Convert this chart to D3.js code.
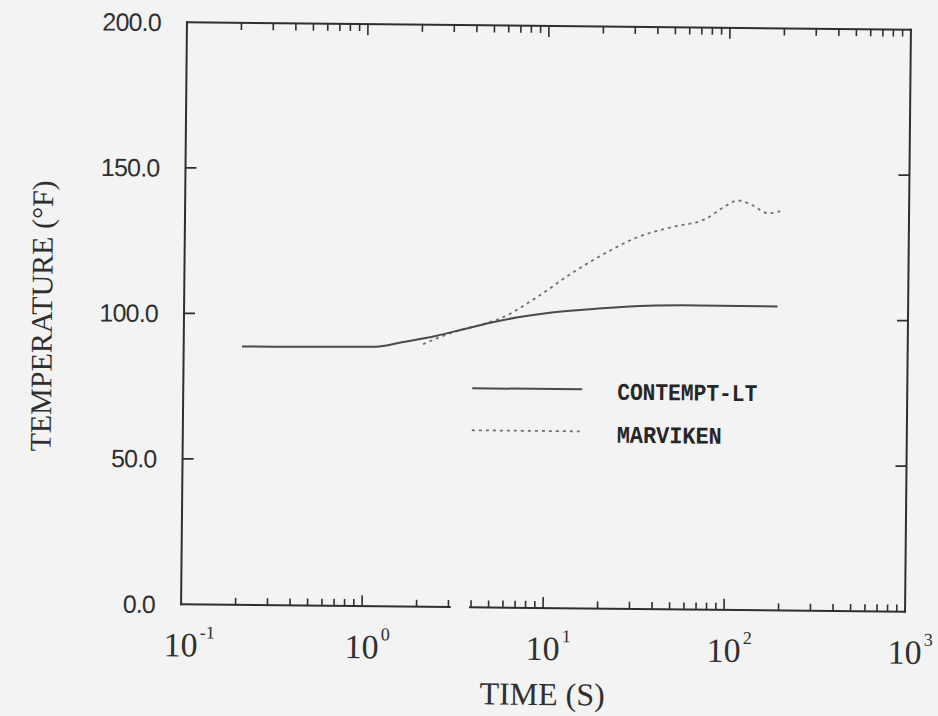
<!DOCTYPE html>
<html>
<head>
<meta charset="utf-8">
<script src="https://cdn.jsdelivr.net/npm/d3@7"></script>
<style>
  html, body { margin: 0; padding: 0; background: #f3f3f3; }
  svg { display: block; }
</style>
</head>
<body>
<svg id="chart" width="938" height="716"></svg>
<script>
// CONTEMPT-LT calculated pool temperature
const contemptTime = [0.21, 0.6, 1.15, 1.6, 2.5, 3.5, 5, 7, 10, 16, 25, 40, 70, 120, 190];
const contemptTemp = [88.8, 89.0, 89.2, 90.8, 93.2, 95.5, 97.9, 99.8, 101.3, 102.6, 103.6, 104.3, 104.5, 104.5, 104.4];

// MARVIKEN measured pool temperature
const marvikenTime = [2.1, 3, 4.2, 5.8, 8.9, 13.7, 20.9, 31.8, 48.9, 76, 92, 114, 135, 167, 194];
const marvikenTemp = [90.2, 94.2, 96.8, 99.8, 106.8, 115.0, 122.0, 127.8, 131.3, 134.4, 137.9, 140.7, 139.2, 136.4, 137.2];

// Axis ticks
const xDecades = [0.1, 1, 10, 100, 1000];
const xDecadeExponents = ["-1", "0", "1", "2", "3"];
const yTicks = [0, 50, 100, 150, 200];
const yTickLabels = ["0.0", "50.0", "100.0", "150.0", "200.0"];

const seriesNames = ["CONTEMPT-LT", "MARVIKEN"];

const frame = { left: 184, right: 908, top: 26, bottom: 608 };
const ink = "#2f2f2f";

const x = d3.scaleLog().domain([0.1, 1000]).range([frame.left, frame.right]);
const y = d3.scaleLinear().domain([0, 200]).range([frame.bottom, frame.top]);

const svg = d3.select("#chart");
const g = svg.append("g")
  .attr("transform", `rotate(0.58 ${(frame.left + frame.right) / 2} ${(frame.top + frame.bottom) / 2})`);

// Frame (bottom edge has a short break in the printed line)
const frameLines = [
  [[0.1, 200], [1000, 200]],
  [[1000, 200], [1000, 0]],
  [[0.1, 0], [0.1, 200]],
  [[0.1, 0], [3.05, 0]],
  [[3.95, 0], [1000, 0]]
];
g.selectAll("line.frame").data(frameLines).join("line")
  .attr("class", "frame")
  .attr("x1", d => x(d[0][0])).attr("y1", d => y(d[0][1]))
  .attr("x2", d => x(d[1][0])).attr("y2", d => y(d[1][1]))
  .attr("stroke", ink).attr("stroke-width", 2).attr("stroke-linecap", "square");

// Log ticks on top and bottom edges
const minorTicks = [];
[0.1, 1, 10, 100].forEach(dec => { for (let k = 2; k <= 9; k++) minorTicks.push(dec * k); });
const majorInner = [1, 10, 100];

function xTicks(values, len, cls) {
  g.selectAll("line.bt-" + cls).data(values).join("line")
    .attr("class", "bt-" + cls)
    .attr("x1", d => x(d)).attr("x2", d => x(d))
    .attr("y1", frame.bottom).attr("y2", frame.bottom - len)
    .attr("stroke", ink).attr("stroke-width", 1.6);
  g.selectAll("line.tt-" + cls).data(values).join("line")
    .attr("class", "tt-" + cls)
    .attr("x1", d => x(d)).attr("x2", d => x(d))
    .attr("y1", frame.top).attr("y2", frame.top + len)
    .attr("stroke", ink).attr("stroke-width", 1.6);
}
xTicks(minorTicks, 7, "minor");
xTicks(majorInner, 11, "major");

// Y ticks on left and right edges
const yInner = yTicks.filter(v => v > 0 && v < 200);
g.selectAll("line.yl").data(yInner).join("line")
  .attr("class", "yl")
  .attr("x1", frame.left).attr("x2", frame.left + 11)
  .attr("y1", d => y(d)).attr("y2", d => y(d))
  .attr("stroke", ink).attr("stroke-width", 1.8);
g.selectAll("line.yr").data(yInner).join("line")
  .attr("class", "yr")
  .attr("x1", frame.right).attr("x2", frame.right - 11)
  .attr("y1", d => y(d)).attr("y2", d => y(d))
  .attr("stroke", ink).attr("stroke-width", 1.8);

// Y tick labels
g.selectAll("text.ylab").data(yTicks).join("text")
  .attr("class", "ylab")
  .attr("x", frame.left - 26)
  .attr("y", d => y(d))
  .attr("dy", "0.36em")
  .attr("text-anchor", "end")
  .attr("font-family", "Liberation Sans, Arial, sans-serif")
  .attr("font-size", 25)
  .attr("letter-spacing", "-0.8")
  .attr("fill", ink)
  .text((d, i) => yTickLabels[i]);

// X tick labels: powers of ten
const xl = g.selectAll("text.xlab").data(xDecades).join("text")
  .attr("class", "xlab")
  .attr("x", d => x(d) - 17)
  .attr("y", frame.bottom + 52)
  .attr("font-family", "Liberation Serif, Times New Roman, serif")
  .attr("font-size", 34)
  .attr("fill", ink);
xl.append("tspan").text("10");
xl.append("tspan")
  .attr("font-size", 18)
  .attr("dy", -18)
  .attr("dx", 2)
  .text((d, i) => xDecadeExponents[i]);

// Axis titles
g.append("text")
  .attr("x", (frame.left + frame.right) / 2)
  .attr("y", frame.bottom + 97)
  .attr("text-anchor", "middle")
  .attr("font-family", "Liberation Serif, Times New Roman, serif")
  .attr("font-size", 32)
  .attr("fill", ink)
  .text("TIME (S)");

g.append("text")
  .attr("transform", `translate(52, 321) rotate(-90)`)
  .attr("text-anchor", "middle")
  .attr("font-family", "Liberation Serif, Times New Roman, serif")
  .attr("font-size", 30)
  .attr("fill", ink)
  .text("TEMPERATURE (°F)");

// Curves
const line = d3.line()
  .x(d => x(d[0]))
  .y(d => y(d[1]))
  .curve(d3.curveMonotoneX);

const contempt = contemptTime.map((t, i) => [t, contemptTemp[i]]);
const marviken = marvikenTime.map((t, i) => [t, marvikenTemp[i]]);

g.append("path")
  .datum(marviken)
  .attr("d", line)
  .attr("fill", "none")
  .attr("stroke", "#707070")
  .attr("stroke-width", 1.8)
  .attr("stroke-dasharray", "3,4");

g.append("path")
  .datum(contempt)
  .attr("d", line)
  .attr("fill", "none")
  .attr("stroke", "#4a4a4a")
  .attr("stroke-width", 2);

// Legend
const legend = g.append("g");
const legendRows = [
  { name: seriesNames[0], lineY: 389, textY: 399, width: 140, dash: null, color: "#4a4a4a", sw: 2 },
  { name: seriesNames[1], lineY: 431, textY: 442, width: 105, dash: "3,4", color: "#707070", sw: 1.8 }
];
legendRows.forEach(r => {
  legend.append("line")
    .attr("x1", 473).attr("x2", 583)
    .attr("y1", r.lineY).attr("y2", r.lineY)
    .attr("stroke", r.color).attr("stroke-width", r.sw)
    .attr("stroke-dasharray", r.dash);
  legend.append("text")
    .attr("x", 618).attr("y", r.textY)
    .attr("font-family", "Liberation Mono, Courier New, monospace")
    .attr("font-weight", "bold")
    .attr("font-size", 24)
    .attr("textLength", r.width)
    .attr("lengthAdjust", "spacingAndGlyphs")
    .attr("fill", "#262626")
    .text(r.name);
});
</script>
</body>
</html>
